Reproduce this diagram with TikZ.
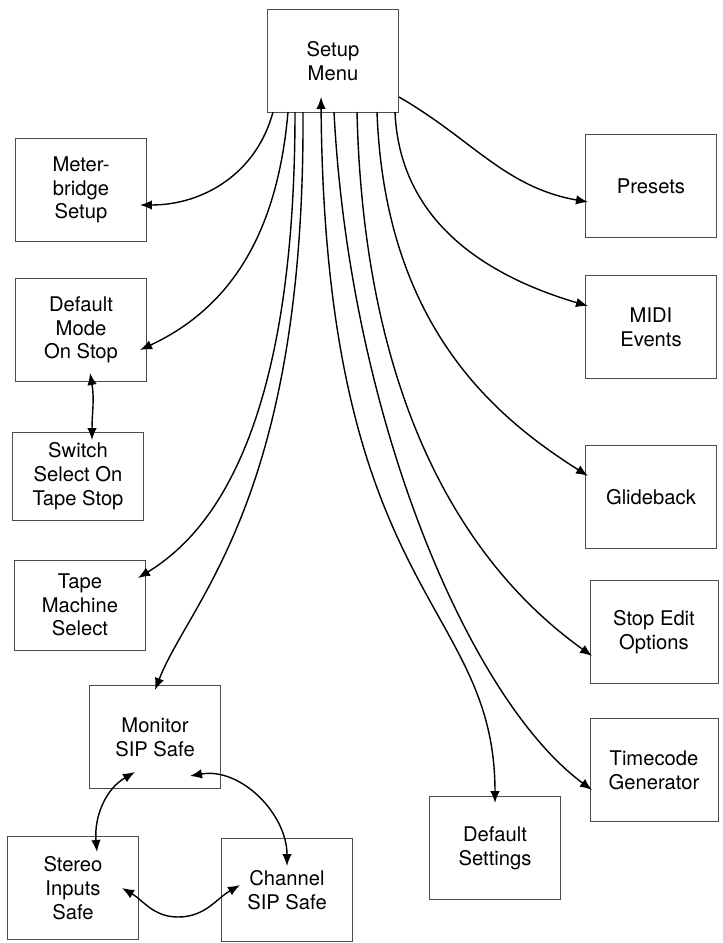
\documentclass[tikz,border=0pt]{standalone}
\usepackage{fontspec}
\setmainfont{TeX Gyre Heros}
\usetikzlibrary{arrows.meta}

\tikzset{
  box/.style={draw=black!70, thin, minimum width=2.62cm, minimum height=2.06cm,
    align=center, inner sep=1pt, font=\fontsize{11.5}{13.5}\selectfont},
  link/.style={thick, -{Latex[length=2.4mm,width=1.9mm]}},
  both/.style={thick, {Latex[length=2.4mm,width=1.9mm]}-{Latex[length=2.4mm,width=1.9mm]}}
}

\begin{document}
\begin{tikzpicture}[x=0.02cm,y=-0.02cm]
\useasboundingbox (0,0) rectangle (723,943);

% boxes
\node [box] (setup) at (333,61) {Setup\\Menu};
\node [box] (meter) at (81,190) {Meter-\\bridge\\Setup};
\node [box] (mode) at (81,330) {Default\\Mode\\On Stop};
\node [box, minimum height=1.76cm] (switch) at (78,476) {Switch\\Select On\\Tape Stop};
\node [box, minimum height=1.8cm] (tape) at (80,605) {Tape\\Machine\\Select};
\node [box] (monitor) at (155,737) {Monitor\\SIP Safe};
\node [box] (stereo) at (73,888) {Stereo\\Inputs\\Safe};
\node [box] (channel) at (287,890) {Channel\\SIP Safe};
\node [box] (defaults) at (495,848) {Default\\Settings};
\node [box] (presets) at (651,186) {Presets};
\node [box] (midi) at (651,327) {MIDI\\Events};
\node [box] (glide) at (651,497) {Glideback};
\node [box, minimum width=2.56cm] (stopedit) at (654,632) {Stop Edit\\Options};
\node [box, minimum width=2.56cm] (timecode) at (654,770) {Timecode\\Generator};

% from the menu, left side
\draw [link] (273,112) to[out=-105,in=0] (140,205);
\draw [link] (288,112) to[out=-95,in=25] (140,350);
\draw [link] (295,112) .. controls (295,450) and (200,540) .. (138,578);
\draw [link] (303,112) .. controls (305,500) and (190,600) .. (155,690);

% from the menu, right side
\draw [both] (321,97) .. controls (325,600) and (495,600) .. (495,803);
\draw [link] (334,112) .. controls (350,420) and (470,700) .. (592,790);
\draw [link] (357,112) .. controls (365,450) and (500,590) .. (592,656);
\draw [link] (377,112) .. controls (385,330) and (500,420) .. (588,476);
\draw [link] (395,112) .. controls (400,230) and (500,280) .. (588,306);
\draw [link] (399,97) to[out=-30,in=170] (588,202);

% between boxes
\draw [both] (90,373) to[out=-80,in=90] (92,440);
\draw [both] (135,772) to[out=-150,in=95] (97,852);
\draw [both] (190,776) to[out=10,in=90] (287,866);
\draw [both] (122,888) to[out=-30,in=180] (178,917) to[out=0,in=-150] (240,885);

\end{tikzpicture}
\end{document}
